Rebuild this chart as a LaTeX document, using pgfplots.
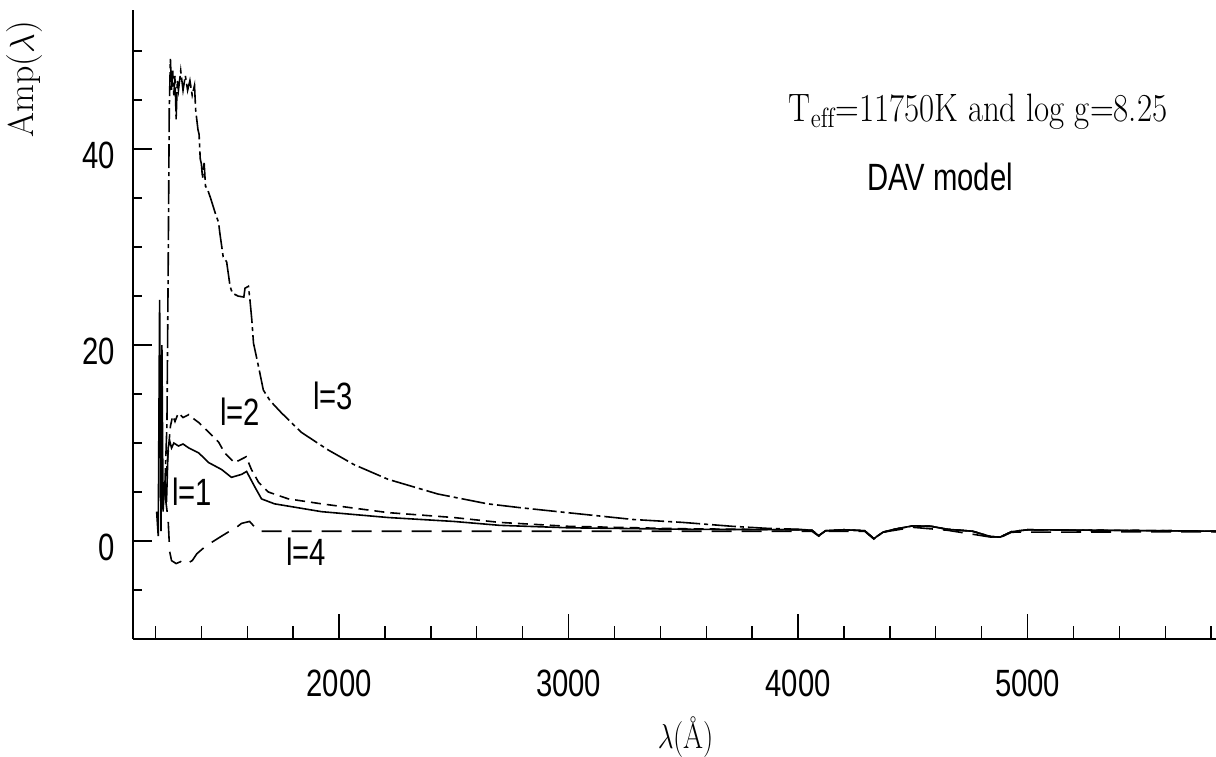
\documentclass[border=0pt]{standalone}
\usepackage{fontspec}
\usepackage{graphicx}
\usepackage{pgfplots}
\pgfplotsset{compat=1.18}
\newfontfamily\narrowsf[FakeStretch=0.77]{Liberation Sans}
\newcommand{\tickfont}{\fontsize{19}{19}\selectfont\narrowsf}
\begin{document}
\begin{tikzpicture}
\path[use as bounding box] (0,0) rectangle (608pt,378pt);
% x axis + data
\begin{axis}[
  at={(66.5pt,58.5pt)}, anchor=south west,
  scale only axis, width=541.5pt, height=314.5pt,
  xmin=1102, xmax=5821, ymin=-10, ymax=54.2,
  axis x line=bottom, axis y line=none,
  x axis line style={-, line width=1pt},
  every outer x axis line/.append style={-},
  tick align=inside,
  xtick={2000,3000,4000,5000},
  minor xtick={1200,1400,1600,1800,2200,2400,2600,2800,3200,3400,3600,3800,4200,4400,4600,4800,5200,5400,5600,5800},
  ytick=\empty,
  major tick length=12.5pt, minor tick length=6.5pt,
  every tick/.style={black, line width=0.7pt},
  /pgf/number format/assume math mode=true,
  /pgf/number format/1000 sep={},
  xticklabel style={font=\tickfont, anchor=north, inner sep=0pt, yshift=-15.5pt},
  clip=true,
]
% l=3
\addplot[black, line width=0.8pt, dash pattern=on 12pt off 2pt on 2pt off 2pt] coordinates {
(1240,5) (1250,12) (1256,30) (1260,44) (1265,49.2) (1270,46) (1275,48) (1280,45.5) (1285,47.5) (1290,43) (1295,47) (1300,46) (1310,48) (1320,46) (1330,47.5) (1340,46) (1350,47) (1360,45.5) (1370,46.5) (1375,44) (1385,42) (1390,41.5) (1395,39) (1400,38.5) (1405,37) (1412,38.6) (1418,36.2) (1425,36) (1440,35) (1460,33.5) (1475,32.5) (1480,31.5) (1495,29) (1510,28.5) (1525,26) (1535,25.3) (1560,25) (1585,24.9) (1590,25.8) (1605,26) (1612,24.5) (1620,22.5) (1627,20.2) (1649,17.8) (1670,15.4) (1700,14.3) (1748,13.1) (1835,11.1) (1952,9.3) (2065,7.8) (2213,6.3) (2430,4.8) (2646,3.8) (2790,3.4) (2993,2.9) (3280,2.2) (3497,1.9) (3714,1.5) (3860,1.3) (4000,1.2) (4060,1.1) (4090,0.55) (4120,1.05) (4200,1.15) (4290,1.05) (4330,0.25) (4370,0.9) (4420,1.2) (4500,1.55) (4580,1.5) (4650,1.2) (4760,1.0) (4840,0.45) (4880,0.4) (4930,0.95) (5000,1.15) (5300,1.1) (5600,1.05) (5821,1.0)
};
% l=2
\addplot[black, line width=0.8pt, dash pattern=on 5pt off 3pt] coordinates {
(1240,5) (1255,9) (1265,11.7) (1275,12.8) (1285,12.2) (1300,13.1) (1320,12.6) (1345,12.9) (1365,12.5) (1388,12.1) (1432,11.1) (1475,10.1) (1501,9.0) (1544,8.0) (1570,8.3) (1595,8.6) (1618,7.3) (1649,6.0) (1692,5.0) (1779,4.3) (1922,3.8) (2213,2.9) (2499,2.4) (2700,1.9) (3000,1.5) (3500,1.25) (4000,1.15) (4060,1.1) (4090,0.55) (4120,1.05) (4200,1.15) (4290,1.05) (4330,0.25) (4370,0.9) (4420,1.2) (4500,1.55) (4580,1.5) (4650,1.2) (4760,1.0) (4840,0.45) (4880,0.4) (4930,0.95) (5000,1.15) (5300,1.1) (5600,1.05) (5821,1.0)
};
% l=1
\addplot[black, line width=0.8pt] coordinates {
(1205,3) (1212,0.5) (1218,24.6) (1224,1) (1228,20) (1233,3) (1240,6) (1248,4) (1255,9.5) (1262,10.2) (1270,9.5) (1280,10) (1300,9.7) (1320,9.9) (1345,9.5) (1388,9.0) (1432,8.0) (1488,7.3) (1531,6.5) (1575,6.8) (1597,7.1) (1631,5.6) (1662,4.3) (1718,3.8) (1922,3.0) (2213,2.4) (2499,2.0) (2700,1.6) (3000,1.35) (3500,1.2) (4000,1.15) (4060,1.1) (4090,0.55) (4120,1.05) (4200,1.15) (4290,1.05) (4330,0.25) (4370,0.9) (4420,1.2) (4500,1.55) (4580,1.5) (4650,1.2) (4760,1.0) (4840,0.45) (4880,0.4) (4930,0.95) (5000,1.15) (5300,1.1) (5600,1.05) (5821,1.0)
};
% l=4
\addplot[black, line width=0.8pt, dash pattern=on 10pt off 5pt] coordinates {
(1240,5) (1255,2.2) (1262,-1.1) (1270,-2.0) (1290,-2.3) (1310,-2.1) (1330,-2.4) (1360,-2.0) (1380,-1.3) (1420,-0.5) (1488,0.5) (1530,1.1) (1553,1.4) (1575,1.8) (1610,2.0) (1649,1.0) (1700,1.0) (2500,1.0) (3500,1.0) (4000,1.0) (4060,1.0) (4090,0.5) (4120,1.0) (4290,1.0) (4330,0.2) (4370,0.9) (4500,1.4) (4650,1.1) (4840,0.4) (4880,0.35) (4930,0.9) (5821,0.95)
};
\node[font=\tickfont] at (axis cs:1974,14.8) {l=3};
\node[font=\tickfont] at (axis cs:1569,13.2) {l=2};
\node[font=\tickfont] at (axis cs:1359,5.0) {l=1};
\node[font=\tickfont] at (axis cs:1856,-1.1) {l=4};
\node[anchor=base, inner sep=0pt] at (axis cs:4784,42.8) {\scalebox{0.83}[1]{\fontsize{19.8}{20}\selectfont T$_{\mathrm{eff}}$=11750K and log g=8.25}};
\node[anchor=base, inner sep=0pt, font=\tickfont] at (axis cs:4619,35.8) {DAV model};
\end{axis}
% y axis
\begin{axis}[
  at={(66.5pt,58.5pt)}, anchor=south west,
  scale only axis, width=541.5pt, height=314.5pt,
  xmin=1102, xmax=5821, ymin=-10, ymax=54.2,
  axis y line=left, axis x line=none,
  y axis line style={-, line width=1pt},
  every outer y axis line/.append style={-},
  tick align=inside,
  xtick=\empty,
  ytick={0,20,40},
  minor ytick={-5,5,10,15,25,30,35,45,50},
  major tick length=9.5pt, minor tick length=4.5pt,
  every tick/.style={black, line width=0.7pt},
  /pgf/number format/assume math mode=true,
  yticklabel style={font=\tickfont, anchor=east, inner sep=0pt, xshift=-9pt, yshift=-3pt},
]
\addplot[draw=none] coordinates {(2000,0)};
\end{axis}
\node[rotate=90, inner sep=0pt] at (12.5pt,338.5pt) {\fontsize{18}{18}\selectfont Amp($\lambda$)};
\node[inner sep=0pt] at (343pt,9.5pt) {\scalebox{0.8}[1]{\fontsize{18}{18}\selectfont$\lambda$(Å)}};
\end{tikzpicture}
\end{document}
